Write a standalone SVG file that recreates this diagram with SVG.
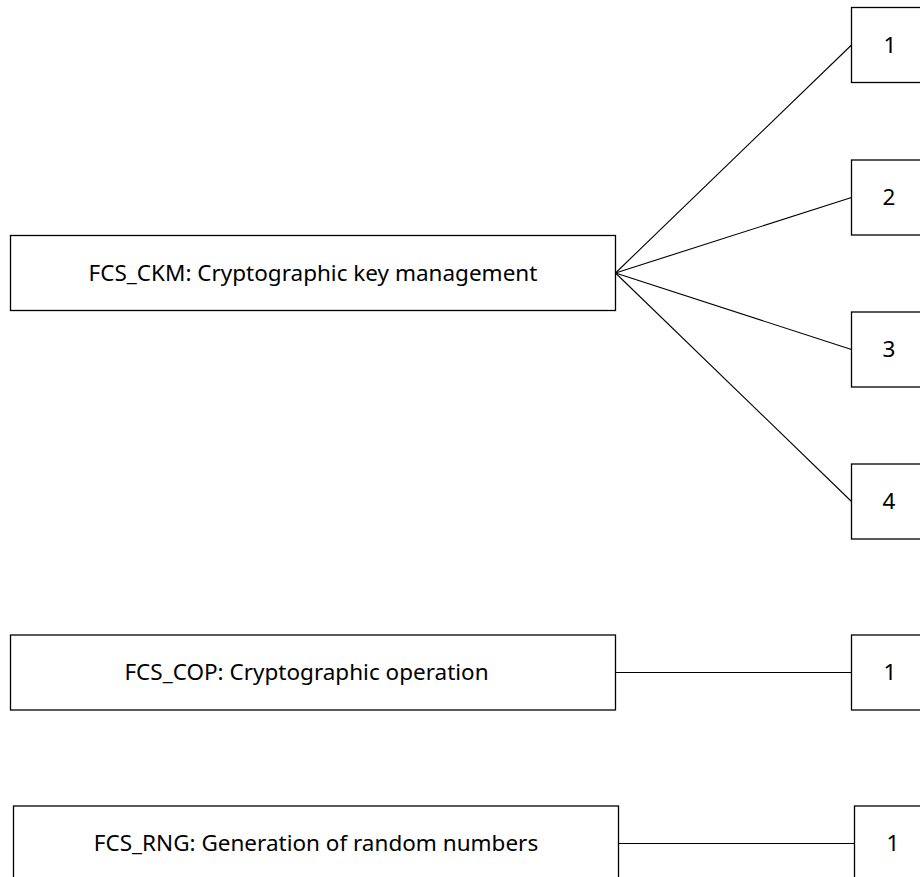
<svg xmlns="http://www.w3.org/2000/svg" width="920" height="877" viewBox="0 0 920 877">
<style>
.box{fill:#fff;stroke:#000;stroke-width:1.3}
.lbl{font-family:"Noto Sans","Open Sans",sans-serif;font-size:22.5px;fill:#000;text-anchor:middle;dominant-baseline:central}
.edge{stroke:#000;stroke-width:1.1;fill:none}
</style>
<rect width="920" height="877" fill="#fff"/>
<g id="connectors">
<line class="edge" x1="615.5" y1="273" x2="851.5" y2="45"/>
<line class="edge" x1="615.5" y1="273" x2="851.5" y2="197.5"/>
<line class="edge" x1="615.5" y1="273" x2="851.5" y2="349.5"/>
<line class="edge" x1="615.5" y1="273" x2="851.5" y2="501.5"/>
<line class="edge" x1="615.5" y1="672.5" x2="851.5" y2="672.5"/>
<line class="edge" x1="618.5" y1="843.5" x2="854.5" y2="843.5"/>
</g>
<g id="ckm"><rect class="box" x="10.5" y="235.5" width="605" height="75"/><text class="lbl" x="313" y="272">FCS_CKM: Cryptographic key management</text></g>
<g id="ckm1"><rect class="box" x="851.5" y="7.5" width="78" height="75"/><text class="lbl" x="890" y="44">1</text></g>
<g id="ckm2"><rect class="box" x="851.5" y="160" width="78" height="75"/><text class="lbl" x="889" y="196.5">2</text></g>
<g id="ckm3"><rect class="box" x="851.5" y="312" width="78" height="75"/><text class="lbl" x="889" y="348.5">3</text></g>
<g id="ckm4"><rect class="box" x="851.5" y="464" width="78" height="75"/><text class="lbl" x="889" y="500.5">4</text></g>
<g id="cop"><rect class="box" x="10.5" y="635" width="605" height="75"/><text class="lbl" x="306.5" y="671.5">FCS_COP: Cryptographic operation</text></g>
<g id="cop1"><rect class="box" x="851.5" y="635" width="78" height="75"/><text class="lbl" x="890" y="671.5">1</text></g>
<g id="rng"><rect class="box" x="13.5" y="806" width="605" height="75"/><text class="lbl" x="316" y="842.5">FCS_RNG: Generation of random numbers</text></g>
<g id="rng1"><rect class="box" x="854.5" y="806" width="78" height="75"/><text class="lbl" x="893" y="842.5">1</text></g>
</svg>
